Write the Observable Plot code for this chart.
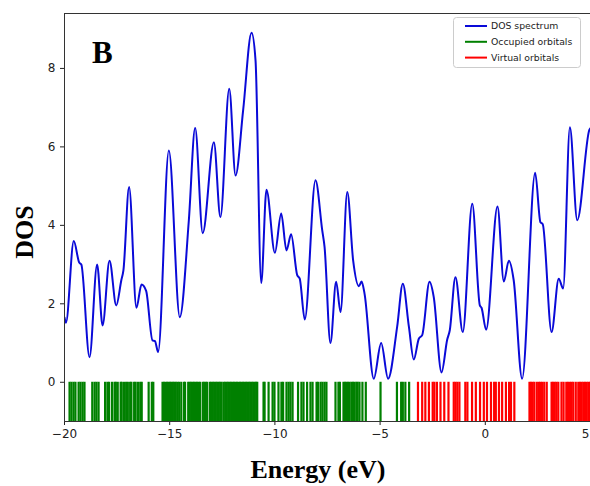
<!DOCTYPE html>
<html><head><meta charset="utf-8">
<script src="https://cdn.jsdelivr.net/npm/d3@7"></script>
<script src="https://cdn.jsdelivr.net/npm/@observablehq/plot@0.6"></script>
<style>body{margin:0;background:#fff}</style>
</head><body><div id="chart"></div>
<script>
// DOS spectrum (energy in eV, DOS value)
const dosEnergy = [-20.0,-19.93,-19.56,-19.3,-19.2,-18.81,-18.45,-18.19,-17.86,-17.54,-17.3,-17.2,-16.93,-16.58,-16.34,-16.12,-15.82,-15.7,-15.55,-15.04,-14.52,-14.09,-13.79,-13.43,-12.9,-12.59,-12.17,-11.87,-11.51,-11.11,-10.92,-10.65,-10.4,-10.0,-9.7,-9.45,-9.23,-8.94,-8.82,-8.58,-8.07,-7.75,-7.64,-7.36,-7.09,-6.88,-6.56,-6.28,-6.01,-5.88,-5.74,-5.3,-4.95,-4.62,-4.19,-3.92,-3.63,-3.4,-3.16,-3.0,-2.65,-2.45,-2.08,-1.81,-1.69,-1.42,-1.07,-0.62,-0.26,-0.18,0.04,0.58,0.88,1.12,1.35,1.75,2.37,2.62,2.73,3.15,3.49,3.7,4.02,4.37,4.95,5.05];
const dosValue  = [1.65,1.52,3.6,3.05,3.0,0.64,3.0,1.45,3.1,1.96,2.6,2.85,4.98,1.9,2.49,2.33,1.07,1.05,0.77,5.91,1.66,4.13,6.48,3.8,6.12,4.21,7.48,5.27,6.93,8.91,8.2,2.53,4.91,3.3,4.3,3.36,3.77,2.73,2.64,1.6,5.15,3.87,3.45,1.0,2.56,1.79,4.85,3.1,2.45,2.57,2.26,0.09,1.0,0.09,1.41,2.51,1.41,0.58,1.11,1.2,2.56,2.17,0.25,1.09,1.32,2.68,1.28,4.55,1.96,1.9,1.34,4.48,2.57,3.1,2.6,0.09,5.34,4.08,4.03,1.28,2.64,2.39,6.5,4.13,6.44,6.5];

// orbital energies (eV)
const occupied = [-19.76,-19.67,-19.57,-19.48,-19.33,-19.24,-19.14,-19.05,-18.68,-18.57,-18.48,-18.38,
 -18.07,-17.96,-17.88,-17.74,-17.62,-17.56,-17.47,-17.33,-17.28,-17.17,-17.07,-16.99,-16.88,-16.82,-16.69,-16.62,-16.51,-16.4,-16.33,-16.0,-15.85,-15.78,
 -15.34,-15.27,-15.2,-15.13,-15.06,-14.99,-14.92,-14.85,-14.78,-14.71,-14.63,-14.55,-14.45,-14.32,-14.27,
 -14.12,-14.05,-13.98,-13.91,-13.84,-13.77,-13.7,-13.63,-13.56,-13.43,-13.36,-13.29,-13.22,-13.09,-13.02,-12.95,-12.88,-12.81,-12.74,-12.67,-12.6,-12.53,
 -12.43,-12.36,-12.29,-12.22,-12.15,-12.08,-12.01,-11.94,-11.87,-11.8,-11.73,-11.66,-11.59,-11.52,-11.45,-11.38,-11.31,-11.24,-11.17,-11.1,-11.03,-10.96,-10.89,-10.84,
 -10.54,-10.49,-10.3,-10.11,-10.02,-9.83,-9.69,-9.61,-9.45,-9.35,-9.26,-9.16,-8.9,-8.74,-8.64,-8.47,-8.31,-8.21,-8.02,-7.95,-7.83,-7.74,-7.64,-7.55,
 -7.12,-6.98,-6.91,-6.74,-6.67,-6.6,-6.53,-6.45,-6.36,-6.29,-6.22,-6.13,-6.07,-5.98,-5.84,-5.68,-4.98,-4.2,-4.0,-3.92,-3.8,-3.62];
const virtual = [-3.2,-3.0,-2.85,-2.68,-2.5,-2.42,-2.3,-2.13,-1.95,-1.75,-1.5,-1.42,-1.33,-1.23,-0.95,-0.85,-0.63,-0.45,-0.25,-0.07,0.08,0.27,0.42,0.5,0.65,0.8,0.98,1.13,1.22,1.38,
 2.1,2.17,2.25,2.33,2.45,2.55,2.62,2.7,2.8,2.92,3.15,3.22,3.3,3.38,3.47,3.62,3.72,3.85,3.93,4.02,4.1,4.18,4.3,4.42,4.5,4.58,4.66,4.74,4.82,4.9,4.98];

const xTicks = [-20,-15,-10,-5,0,5];
const yTicks = [0,2,4,6,8];
const legendLabels = ["DOS spectrum","Occupied orbitals","Virtual orbitals"];
const legendColors = ["#0a0ad8","#008000","#ff0000"];

const dos = dosEnergy.map((e,i)=>({e, v: dosValue[i]}));

const svg = Plot.plot({
  width: 590, height: 486,
  marginLeft: 64, marginRight: 0, marginTop: 13, marginBottom: 65,
  style: {fontFamily: "DejaVu Sans", fontSize: "12px", color: "#222", background: "#fff"},
  x: {domain: [-20, 5], ticks: xTicks, tickSize: 4, tickPadding: 4, label: null,
      tickFormat: d => d < 0 ? "\u2212" + Math.abs(d) : String(d)},
  y: {domain: [-1, 9.4], ticks: yTicks, tickSize: 4, tickPadding: 5, label: null},
  marks: [
    Plot.ruleX(occupied, {x: d => d, y1: -1, y2: 0, stroke: "#008000", strokeWidth: 2.2}),
    Plot.ruleX(virtual, {x: d => d, y1: -1, y2: 0, stroke: "#ff0000", strokeWidth: 2.2}),
    Plot.line(dos, {x: "e", y: "v", stroke: "#0a0ad8", strokeWidth: 2, curve: "monotone-x", clip: true}),
    Plot.ruleX([-20], {stroke: "#333"}),
    Plot.ruleY([-1, 9.4], {stroke: "#333"})
  ]
});

const s = d3.select(svg);
// keep the right-most tick label inside the picture
s.selectAll("text").filter(function(){ return this.textContent.trim() === "5"; })
  .attr("text-anchor", "end").attr("dx", -1);

s.append("text").attr("x", 92).attr("y", 63).attr("text-anchor", "start")
  .attr("font-family", "Liberation Serif").attr("font-weight", "bold").attr("font-size", 31)
  .attr("fill", "#000").text("B");
s.append("text").attr("transform", "translate(33,232) rotate(-90)")
  .attr("text-anchor", "middle")
  .attr("font-family", "Liberation Serif").attr("font-weight", "bold").attr("font-size", 26)
  .attr("fill", "#000").text("DOS");
s.append("text").attr("x", 318).attr("y", 478).attr("text-anchor", "middle")
  .attr("font-family", "Liberation Serif").attr("font-weight", "bold").attr("font-size", 26)
  .attr("fill", "#000").text("Energy (eV)");

const lg = s.append("g");
lg.append("rect").attr("x", 453.5).attr("y", 17.5).attr("width", 127).attr("height", 50).attr("rx", 3)
  .attr("fill", "#fff").attr("fill-opacity", 0.85).attr("stroke", "#ccc");
legendLabels.forEach((t, i) => {
  const y = 26 + i * 15.8;
  lg.append("line").attr("x1", 465).attr("x2", 487).attr("y1", y).attr("y2", y)
    .attr("stroke", legendColors[i]).attr("stroke-width", 2);
  lg.append("text").attr("x", 491).attr("y", y).attr("dy", "0.35em").attr("text-anchor", "start")
    .attr("font-family", "DejaVu Sans").attr("font-size", 9.3).attr("fill", "#222").text(t);
});

document.getElementById("chart").appendChild(svg);
</script>
</body></html>
